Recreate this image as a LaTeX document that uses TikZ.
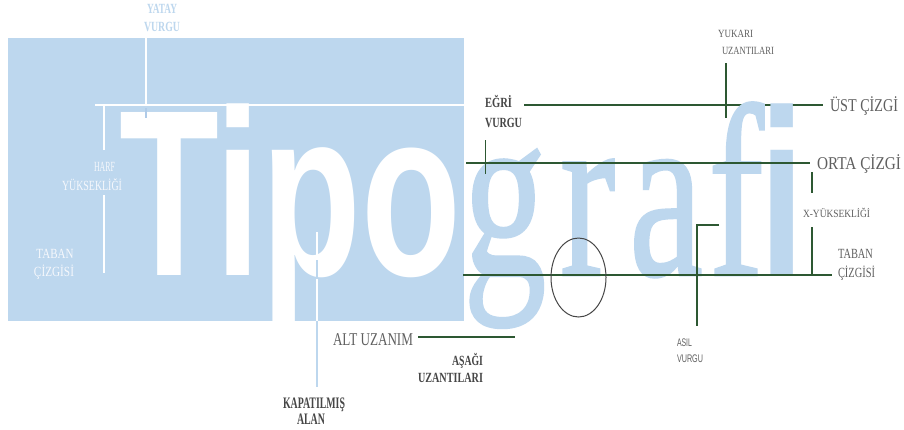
\documentclass[tikz,border=0pt]{standalone}
\usepackage{fontspec}
\usetikzlibrary{shapes.geometric}
\setmainfont{Liberation Serif}
\newfontfamily\sansf{Liberation Sans}
\newfontfamily\serifheavy[FakeBold=1.1]{Liberation Serif}
\definecolor{tblue}{RGB}{189,215,238}
\definecolor{tblueD}{RGB}{176,203,232}
\definecolor{gline}{RGB}{45,88,50}
\definecolor{tgray}{RGB}{95,95,95}
\definecolor{tdark}{RGB}{70,70,70}
\definecolor{wtext}{RGB}{246,248,252}
\newcommand{\fw}[2]{\resizebox{#1pt}{\height}{#2}}
\tikzset{
  lbl/.style={inner sep=0pt, outer sep=0pt},
  bigl/.style={lbl, text=tgray, font=\fontsize{18}{18}\selectfont},
  boldl/.style={lbl, text=tdark, font=\bfseries\fontsize{14}{14}\selectfont},
  regl/.style={lbl, text=tgray, font=\fontsize{14}{14}\selectfont},
  smalll/.style={lbl, text=tgray, font=\fontsize{11}{11}\selectfont},
  sansl/.style={lbl, text=tgray, font=\sansf\fontsize{11}{11}\selectfont},
  whitel/.style={lbl, text=wtext, font=\fontsize{14}{14}\selectfont},
  glinestyle/.style={draw=gline, line width=1.3pt},
  wlinestyle/.style={draw=white, line width=1.8pt},
  blinestyle/.style={draw=tblue, line width=1.8pt},
}
\begin{document}
\begin{tikzpicture}[x=1pt,y=-1pt]
\useasboundingbox (0,0) rectangle (904,429);
\fill[white] (0,0) rectangle (904,429);
% blue panel
\fill[tblue] (8,38) rectangle (464,321);
% cap line (behind the word)
\coordinate (ustA) at (524,105);
\coordinate (ustB) at (823,105);
\draw[glinestyle] (ustA) -- (ustB);
% the word
\node[lbl, anchor=base west, text=tblue] (word) at (119,275) {%
{\sansf\bfseries\fontsize{237}{237}\selectfont\color{white}\scalebox{0.69}[1]{Tipo}}%
\kern2pt{\serifheavy\fontsize{245}{245}\selectfont\scalebox{0.68}[1]{g\kern20pt r\kern20pt a\kern8pt f}}%
\kern-4pt{\sansf\bfseries\fontsize{237}{237}\selectfont\scalebox{0.69}[1]{i}}};
% white guide lines on panel
\coordinate (capA) at (95,105);
\coordinate (capB) at (464,105);
\draw[wlinestyle, line width=1.5pt] (capA) -- (capB);
\coordinate (yatA) at (146,38);
\coordinate (yatB) at (146,105);
\draw[wlinestyle] (yatA) -- (yatB);
\coordinate (yatC) at (146,108);
\coordinate (yatD) at (146,118);
\draw[draw=tblueD, line width=1.6pt] (yatC) -- (yatD);
\coordinate (harfA) at (104,106);
\coordinate (harfB) at (104,150);
\coordinate (harfC) at (104,195);
\coordinate (harfD) at (104,273);
\draw[wlinestyle] (harfA) -- (harfB) (harfC) -- (harfD);
\coordinate (kapA) at (317,232);
\coordinate (kapB) at (317,321);
\coordinate (kapC) at (317,387);
\coordinate (kapD) at (317,260);
\coordinate (kapE) at (317,279);
\draw[wlinestyle] (kapA) -- (kapB);
\draw[blinestyle] (kapD) -- (kapE);
\draw[blinestyle] (kapB) -- (kapC);
% labels on the panel
\node[lbl, anchor=base, text=tblue, font=\bfseries\fontsize{14}{14}\selectfont] (yatay1) at (162,13) {\fw{30}{YATAY}};
\node[lbl, anchor=base, text=tblue, font=\bfseries\fontsize{14}{14}\selectfont] (yatay2) at (162,31) {\fw{36}{VURGU}};
\node[whitel, anchor=base] (harf1) at (104.5,171) {\fw{21}{HARF}};
\node[whitel, anchor=base] (harf2) at (92,190) {\fw{60}{YÜKSEKLİĞİ}};
\node[whitel, anchor=base] (tabanL1) at (55,258) {\fw{37}{TABAN}};
\node[whitel, anchor=base] (tabanL2) at (54,276) {\fw{40}{ÇİZGİSİ}};
% green guide lines
\coordinate (yukA) at (726,63);
\coordinate (yukB) at (726,118);
\draw[glinestyle] (yukA) -- (yukB);
\coordinate (ortaA) at (466,163);
\coordinate (ortaB) at (810,163);
\draw[glinestyle] (ortaA) -- (ortaB);
\coordinate (egriA) at (485,140);
\coordinate (egriB) at (485,174);
\draw[draw=gline, line width=1pt] (egriA) -- (egriB);
\coordinate (baseA) at (463,275);
\coordinate (baseB) at (832,275);
\draw[glinestyle] (baseA) -- (baseB);
\coordinate (xA) at (812,172);
\coordinate (xB) at (812,193);
\coordinate (xC) at (812,227);
\coordinate (xD) at (812,275);
\draw[draw=gline, line width=1.2pt] (xA) -- (xB) (xC) -- (xD);
\coordinate (asA) at (719,225);
\coordinate (asB) at (697,225);
\coordinate (asC) at (697,326);
\draw[draw=gline, line width=1.2pt] (asA) -- (asB) -- (asC);
\coordinate (altA) at (418,337);
\coordinate (altB) at (515,337);
\draw[glinestyle] (altA) -- (altB);
\node[draw=tdark, line width=1pt, ellipse, minimum width=55pt, minimum height=79pt, inner sep=0pt] (spur) at (578.5,277.5) {};
% labels
\node[boldl, anchor=base west] (egri1) at (485,107) {\fw{27}{EĞRİ}};
\node[boldl, anchor=base west] (egri2) at (485,127) {\fw{37}{VURGU}};
\node[smalll, anchor=base west] (yuk1) at (718,37.5) {\fw{35}{YUKARI}};
\node[smalll, anchor=base west] (yuk2) at (722,54) {\fw{52}{UZANTILARI}};
\node[bigl, anchor=base west] (ust) at (830,111) {\fw{68}{ÜST ÇİZGİ}};
\node[bigl, anchor=base west] (orta) at (817,169) {\fw{84}{ORTA ÇİZGİ}};
\node[smalll, anchor=base west] (xh) at (803,217) {\fw{67}{X-YÜKSEKLİĞİ}};
\node[regl, anchor=base west] (tabanR1) at (838,258) {\fw{35}{TABAN}};
\node[regl, anchor=base west] (tabanR2) at (838,277) {\fw{37}{ÇİZGİSİ}};
\node[sansl, anchor=base west] (asil1) at (677,346) {\fw{15}{ASIL}};
\node[sansl, anchor=base west] (asil2) at (677,362) {\fw{26}{VURGU}};
\node[bigl, anchor=base east] (alt) at (413,345) {\fw{80}{ALT UZANIM}};
\node[boldl, anchor=base east] (asagi1) at (483,365) {\fw{31}{AŞAĞI}};
\node[boldl, anchor=base east] (asagi2) at (483,382) {\fw{65}{UZANTILARI}};
\node[boldl, anchor=base, font=\bfseries\fontsize{16}{16}\selectfont] (kap1) at (314,408) {\fw{62}{KAPATILMIŞ}};
\node[boldl, anchor=base, font=\bfseries\fontsize{16}{16}\selectfont] (kap2) at (311,424) {\fw{28}{ALAN}};
\end{tikzpicture}
\end{document}
